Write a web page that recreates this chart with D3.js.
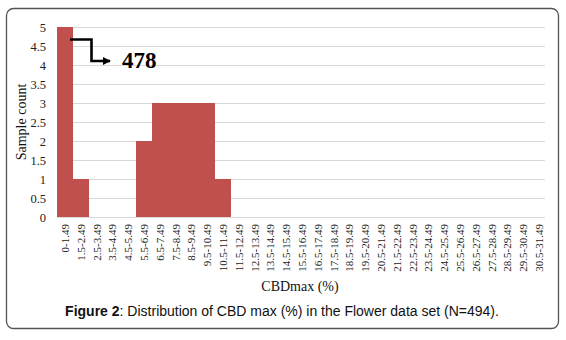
<!DOCTYPE html>
<html><head><meta charset="utf-8">
<script src="https://cdn.jsdelivr.net/npm/d3@7"></script>
<style>body{margin:0;background:#fff}svg{display:block}</style>
</head><body><svg id="c" width="566" height="340"></svg>
<script>
const categories = ["0-1.49","1.5-2.49","2.5-3.49","3.5-4.49","4.5-5.49","5.5-6.49","6.5-7.49","7.5-8.49","8.5-9.49","9.5-10.49","10.5-11.49","11.5-12.49","12.5-13.49","13.5-14.49","14.5-15.49","15.5-16.49","16.5-17.49","17.5-18.49","18.5-19.49","19.5-20.49","20.5-21.49","21.5-22.49","22.5-23.49","23.5-24.49","24.5-25.49","25.5-26.49","26.5-27.49","27.5-28.49","28.5-29.49","29.5-30.49","30.5-31.49"];
const counts = [5,1,0,0,0,2,3,3,3,3,1,0,0,0,0,0,0,0,0,0,0,0,0,0,0,0,0,0,0,0,0];
const yTicks = [0,0.5,1,1.5,2,2.5,3,3.5,4,4.5,5];
const yTickLabels = ["0","0.5","1","1.5","2","2.5","3","3.5","4","4.5","5"];
const annotation = "478";
const xTitle = "CBDmax (%)";
const yTitle = "Sample count";

const svg = d3.select("#c");
const serif = "'Liberation Serif', 'Times New Roman', serif";
const sans = "'Liberation Sans', Arial, sans-serif";

// frame
svg.append("rect").attr("x",6.5).attr("y",8.5).attr("width",552).attr("height",320)
  .attr("rx",7).attr("fill","#fff").attr("stroke","#555").attr("stroke-width",1.3);

const x = d3.scaleBand().domain(categories).range([57,547]).paddingInner(0).paddingOuter(0);
const y = d3.scaleLinear().domain([0,5]).range([217,27]);

// gridlines
svg.append("g").selectAll("line").data(yTicks).join("line")
  .attr("x1",57).attr("x2",545).attr("y1",d=>y(d)+0.5).attr("y2",d=>y(d)+0.5)
  .attr("stroke","#d9d9d9").attr("stroke-width",1);

// bars
svg.append("g").selectAll("rect").data(categories).join("rect")
  .attr("x",d=>x(d)).attr("width",x.bandwidth()+0.3)
  .attr("y",(d,i)=>y(counts[i])).attr("height",(d,i)=>y(0)-y(counts[i]))
  .attr("fill","#c0504d").attr("shape-rendering","crispEdges");

// y axis labels
const yAxis = d3.axisLeft(y).tickValues(yTicks).tickFormat((d,i)=>yTickLabels[i]).tickSize(0).tickPadding(0);
const gy = svg.append("g").attr("transform","translate(46,0)").call(yAxis);
gy.select(".domain").remove();
gy.selectAll("text").attr("font-family",serif).attr("font-size","12.5px").attr("fill","#222");

// x axis labels
const xAxis = d3.axisBottom(x).tickSize(0).tickPadding(0);
const gx = svg.append("g").attr("transform","translate(0,217)").call(xAxis);
gx.select(".domain").remove();
gx.selectAll("text").attr("font-family",serif).attr("font-size","11px").attr("fill","#222")
  .attr("text-anchor","end").attr("dy",null).attr("y",0)
  .attr("transform","translate(4,7) rotate(-90)");

// titles
svg.append("text").attr("x",300).attr("y",291).attr("text-anchor","middle")
  .attr("font-family",serif).attr("font-size","14px").attr("fill","#111").text(xTitle);
svg.append("text").attr("transform","translate(26,122) rotate(-90)").attr("text-anchor","middle")
  .attr("font-family",serif).attr("font-size","14px").attr("fill","#111").text(yTitle);

// annotation arrow
svg.append("defs").append("marker").attr("id","ah").attr("viewBox","0 0 10 10")
  .attr("refX",9).attr("refY",5).attr("markerWidth",3.2).attr("markerHeight",3.2).attr("orient","auto")
  .append("path").attr("d","M0,0L10,5L0,10z").attr("fill","#000");
svg.append("path").attr("d","M70,39.5H91.5V61H110").attr("fill","none")
  .attr("stroke","#000").attr("stroke-width",2.6).attr("marker-end","url(#ah)");
svg.append("text").attr("x",122).attr("y",68).attr("font-family",serif).attr("font-weight","bold")
  .attr("font-size","23px").attr("fill","#000").text(annotation);

// caption
const cap = svg.append("text").attr("x",282).attr("y",316).attr("text-anchor","middle")
  .attr("font-family",sans).attr("font-size","14px").attr("fill","#111");
cap.append("tspan").attr("font-weight","bold").text("Figure 2");
cap.append("tspan").text(": Distribution of CBD max (%) in the Flower data set (N=494).");
</script></body></html>
